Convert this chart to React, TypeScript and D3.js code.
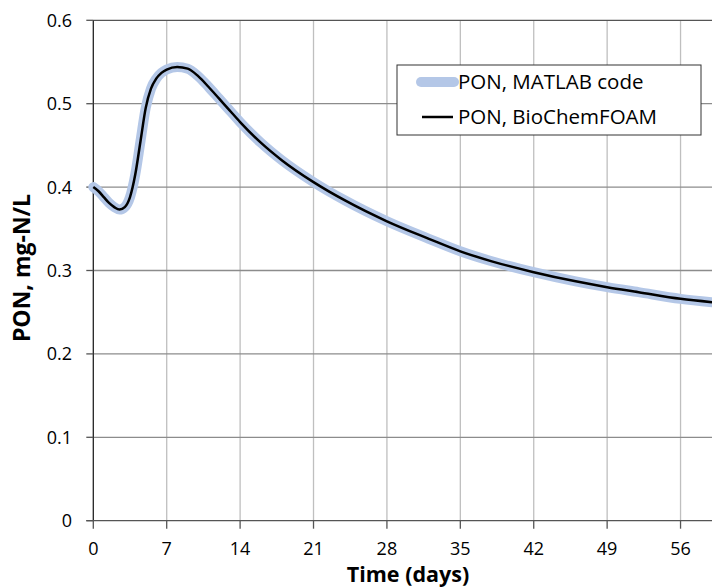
import React from "react";
import * as d3 from "d3";

const days = [0, 0.5, 1, 1.5, 2, 2.5, 3, 3.5, 4, 4.5, 5, 5.5, 6, 6.5, 7, 8, 9, 10, 11, 12, 13, 14, 16, 18, 21, 24, 28, 32, 35, 38, 42, 46, 49, 52, 56, 59];
const ponMatlab = [0.4, 0.395, 0.388, 0.381, 0.376, 0.373, 0.376, 0.388, 0.415, 0.455, 0.495, 0.518, 0.53, 0.537, 0.541, 0.544, 0.542, 0.533, 0.52, 0.506, 0.492, 0.478, 0.453, 0.432, 0.406, 0.384, 0.359, 0.338, 0.323, 0.311, 0.298, 0.287, 0.28, 0.274, 0.266, 0.262];
const ponFoam = [0.4, 0.395, 0.388, 0.381, 0.376, 0.373, 0.376, 0.388, 0.415, 0.455, 0.495, 0.518, 0.53, 0.537, 0.541, 0.544, 0.542, 0.533, 0.52, 0.506, 0.492, 0.478, 0.453, 0.432, 0.406, 0.384, 0.359, 0.338, 0.323, 0.311, 0.298, 0.287, 0.28, 0.274, 0.266, 0.262];
const xTicks = [0, 7, 14, 21, 28, 35, 42, 49, 56];
const yTicks = [0, 0.1, 0.2, 0.3, 0.4, 0.5, 0.6];
const seriesNames = ["PON, MATLAB code", "PON, BioChemFOAM"];

const W = 712, H = 588;
const FONT = "'Open Sans', sans-serif";

export default function App() {
  const x = d3.scaleLinear().domain([0, 59]).range([93.3, 712]);
  const y = d3.scaleLinear().domain([0, 0.6]).range([520.7, 20.3]);
  const line = d3.line<number>().x((_, i) => x(days[i])).y((d) => y(d)).curve(d3.curveMonotoneX);
  const [x0, x1] = x.range();
  const [yb, yt] = y.range();
  return (
    <svg width={W} height={H} style={{ position: "absolute", left: 0, top: 0, background: "#fff" }}>
      {xTicks.filter((t) => t > 0).map((t) => (
        <line key={"gx" + t} x1={x(t)} x2={x(t)} y1={yt} y2={yb} stroke="#bfbfbf" strokeWidth={1.3} />
      ))}
      {yTicks.filter((t) => t > 0).map((t) => (
        <line key={"gy" + t} x1={x0} x2={x1} y1={y(t)} y2={y(t)} stroke={t === 0.6 ? "#555" : "#8c8c8c"} strokeWidth={1.3} />
      ))}
      <line x1={x0} x2={x0} y1={yt} y2={yb} stroke="#222" strokeWidth={1.3} />
      <line x1={x0 - 7} x2={x1} y1={yb} y2={yb} stroke="#555" strokeWidth={1.3} />
      {yTicks.map((t) => (
        <g key={"ty" + t}>
          <line x1={x0 - 7} x2={x0} y1={y(t)} y2={y(t)} stroke="#555" strokeWidth={1.3} />
          <text x={72} y={y(t)} dy="0.36em" textAnchor="end" fontFamily={FONT} fontSize={18} fill="#000">
            {t === 0 ? "0" : t.toFixed(1)}
          </text>
        </g>
      ))}
      {xTicks.map((t) => (
        <g key={"tx" + t}>
          <line x1={x(t)} x2={x(t)} y1={yb} y2={yb + 8} stroke="#555" strokeWidth={1.3} />
          <text x={x(t)} y={555} textAnchor="middle" fontFamily={FONT} fontSize={18} fill="#000">{t}</text>
        </g>
      ))}
      <path d={line(ponMatlab) || ""} fill="none" stroke="#b4c7e7" strokeWidth={10} strokeLinejoin="round" strokeLinecap="round" />
      <path d={line(ponFoam) || ""} fill="none" stroke="#000" strokeWidth={2.5} strokeLinejoin="round" />
      <text x={408} y={582} textAnchor="middle" fontFamily={FONT} fontSize={21.5} fontWeight="bold" fill="#000">Time (days)</text>
      <text transform="translate(30,268) rotate(-90)" textAnchor="middle" fontFamily={FONT} fontSize={23} fontWeight="bold" fill="#000">PON, mg-N/L</text>
      <g>
        <rect x={397} y={65} width={304} height={70} fill="#fff" stroke="#333" strokeWidth={1} />
        <line x1={421} x2={454} y1={82} y2={82} stroke="#b4c7e7" strokeWidth={10} strokeLinecap="round" />
        <line x1={422} x2={453} y1={117} y2={117} stroke="#000" strokeWidth={2.5} />
        <text x={458} y={82} dy="0.36em" fontFamily={FONT} fontSize={20.5} fill="#000">{seriesNames[0]}</text>
        <text x={458} y={117} dy="0.36em" fontFamily={FONT} fontSize={20.5} fill="#000">{seriesNames[1]}</text>
      </g>
    </svg>
  );
}
